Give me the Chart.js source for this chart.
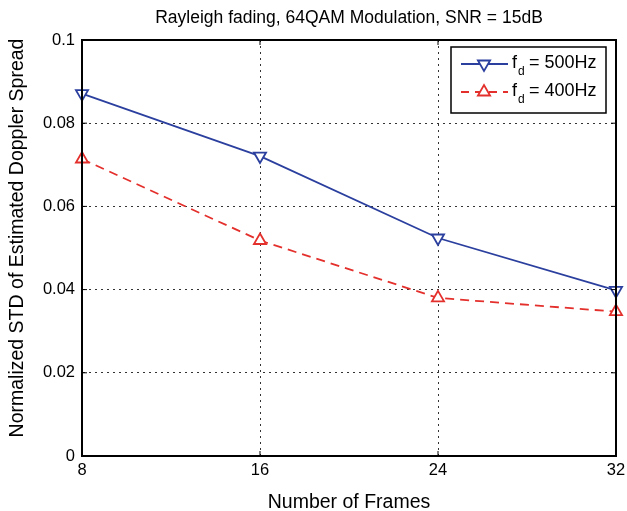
<!DOCTYPE html>
<html>
<head>
<meta charset="utf-8">
<script src="https://cdn.jsdelivr.net/npm/chart.js@4/dist/chart.umd.min.js"></script>
<style>
  html, body { margin: 0; padding: 0; background: #fff; }
  #wrap { width: 627px; height: 511px; }
</style>
</head>
<body>
<div id="wrap"><canvas id="chart" width="627" height="511"></canvas></div>
<script>
// data
const frames = [8, 16, 24, 32];
const std500 = [0.0871, 0.0721, 0.0524, 0.0398];
const std400 = [0.0714, 0.0518, 0.0380, 0.0347];
const yTicks = [0, 0.02, 0.04, 0.06, 0.08, 0.1];

const titleText = 'Rayleigh fading, 64QAM Modulation, SNR = 15dB';
const xTitle = 'Number of Frames';
const yTitle = 'Normalized STD of Estimated Doppler Spread';
const blue = '#2b3f9e';
const red = '#e4302c';
const fontFam = '"Liberation Sans", Arial, Helvetica, sans-serif';

// titles, box around the axes, tick marks and legend with subscripts
const decor = {
    id: 'decor',
    afterDraw(chart) {
        const ctx = chart.ctx;
        const a = chart.chartArea;
        const xs = chart.scales.x, ys = chart.scales.y;
        ctx.save();
        ctx.strokeStyle = '#000';
        ctx.lineWidth = 2;
        ctx.strokeRect(a.left, a.top, a.right - a.left, a.bottom - a.top);

        // inward tick marks
        ctx.lineWidth = 1;
        ctx.beginPath();
        frames.forEach(f => {
            const px = xs.getPixelForValue(f);
            ctx.moveTo(px, a.bottom); ctx.lineTo(px, a.bottom - 5);
            ctx.moveTo(px, a.top); ctx.lineTo(px, a.top + 5);
        });
        yTicks.forEach(v => {
            const py = ys.getPixelForValue(v);
            ctx.moveTo(a.left, py); ctx.lineTo(a.left + 5, py);
            ctx.moveTo(a.right, py); ctx.lineTo(a.right - 5, py);
        });
        ctx.stroke();

        ctx.fillStyle = '#000';
        ctx.textAlign = 'center';
        ctx.textBaseline = 'middle';
        ctx.font = '17.5px ' + fontFam;
        ctx.fillText(titleText, (a.left + a.right) / 2, 18);
        ctx.font = '19.5px ' + fontFam;
        ctx.fillText(xTitle, (a.left + a.right) / 2, 503);
        ctx.save();
        ctx.translate(18, 238);
        ctx.rotate(-Math.PI / 2);
        ctx.fillText(yTitle, 0, 0);
        ctx.restore();

        // legend
        const bx = 451, by = 47, bw = 155, bh = 66;
        ctx.fillStyle = '#fff';
        ctx.fillRect(bx, by, bw, bh);
        ctx.lineWidth = 1.5;
        ctx.strokeStyle = '#000';
        ctx.strokeRect(bx, by, bw, bh);
        const rows = [
            { y: 64, color: blue, dash: [], down: true, label: '500Hz' },
            { y: 92, color: red, dash: [8, 6], down: false, label: '400Hz' }
        ];
        rows.forEach(r => {
            ctx.strokeStyle = r.color;
            ctx.lineWidth = 1.8;
            ctx.setLineDash(r.dash);
            ctx.beginPath();
            ctx.moveTo(461, r.y);
            ctx.lineTo(508, r.y);
            ctx.stroke();
            ctx.setLineDash([]);
            ctx.fillStyle = '#fff';
            ctx.beginPath();
            const cx = 484, s = 7;
            if (r.down) {
                ctx.moveTo(cx - s * 0.87, r.y - s * 0.5);
                ctx.lineTo(cx + s * 0.87, r.y - s * 0.5);
                ctx.lineTo(cx, r.y + s);
            } else {
                ctx.moveTo(cx - s * 0.87, r.y + s * 0.5);
                ctx.lineTo(cx + s * 0.87, r.y + s * 0.5);
                ctx.lineTo(cx, r.y - s);
            }
            ctx.closePath();
            ctx.fill();
            ctx.stroke();

            ctx.fillStyle = '#000';
            ctx.textAlign = 'left';
            ctx.textBaseline = 'middle';
            ctx.font = '18px ' + fontFam;
            ctx.fillText('f', 512, r.y - 1);
            ctx.font = '12px ' + fontFam;
            ctx.fillText('d', 518, r.y + 8);
            ctx.font = '18px ' + fontFam;
            ctx.fillText('= ' + r.label, 529, r.y - 1);
        });
        ctx.restore();
    }
};

new Chart(document.getElementById('chart'), {
    type: 'line',
    data: {
        labels: frames,
        datasets: [
            {
                label: 'fd = 500Hz',
                data: frames.map((f, i) => ({ x: f, y: std500[i] })),
                borderColor: blue,
                backgroundColor: '#fff',
                borderWidth: 1.8,
                pointStyle: 'triangle',
                pointRotation: 180,
                pointRadius: 7,
                pointBorderWidth: 1.8,
                clip: false,
                tension: 0
            },
            {
                label: 'fd = 400Hz',
                data: frames.map((f, i) => ({ x: f, y: std400[i] })),
                borderColor: red,
                backgroundColor: '#fff',
                borderWidth: 1.8,
                borderDash: [9, 6],
                pointStyle: 'triangle',
                pointRadius: 7,
                pointBorderWidth: 1.8,
                clip: false,
                tension: 0
            }
        ]
    },
    options: {
        responsive: false,
        animation: false,
        layout: { padding: { top: 40, right: 11, left: 0, bottom: 0 } },
        plugins: {
            legend: { display: false },
            tooltip: { enabled: false }
        },
        scales: {
            x: {
                type: 'linear',
                min: 8,
                max: 32,
                afterBuildTicks: s => { s.ticks = frames.map(v => ({ value: v })); },
                afterFit: s => { s.height = 55; s.paddingLeft = 0; s.paddingRight = 0; },
                grid: { color: '#333', lineWidth: 1, drawTicks: false },
                border: { display: true, color: '#000', width: 2, dash: [2, 4] },
                ticks: { color: '#000', font: { size: 16.5, family: fontFam }, padding: 5, maxRotation: 0 }
            },
            y: {
                min: 0,
                max: 0.1,
                afterBuildTicks: s => { s.ticks = yTicks.map(v => ({ value: v })); },
                afterFit: s => { s.width = 82; s.paddingTop = 0; s.paddingBottom = 0; },
                grid: { color: '#333', lineWidth: 1, drawTicks: false },
                border: { display: true, color: '#000', width: 2, dash: [2, 4] },
                ticks: { color: '#000', font: { size: 16.5, family: fontFam }, padding: 7, callback: v => String(+v.toFixed(2)) }
            }
        }
    },
    plugins: [decor]
});
</script>
</body>
</html>
